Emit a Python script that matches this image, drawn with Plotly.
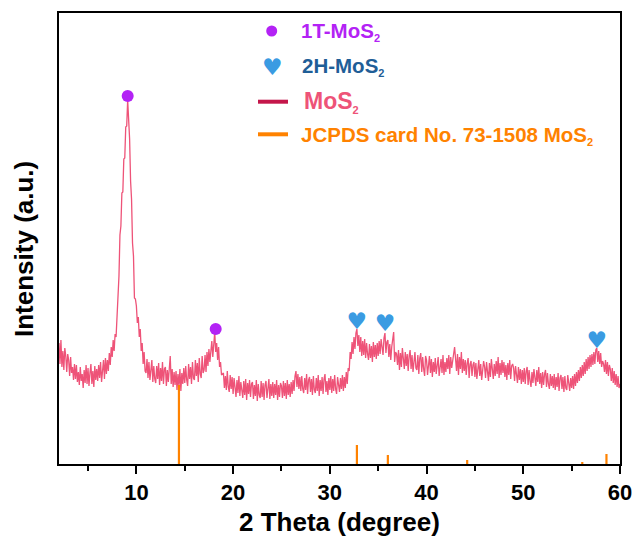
import numpy as np
import plotly.graph_objects as go

# ---------------- data ----------------
# XRD scan: 2-theta from 2.0 to 60.0 deg, step 0.1 deg
scan_start = 2.0
scan_step = 0.1
intensity = [
    121, 100, 124, 97, 113, 94, 116, 108, 92, 110,       # 2
    104, 88, 107, 91, 97, 84, 100, 85, 99, 82,           # 3
    92, 79, 97, 83, 90, 76, 94, 81, 99, 80,              # 4
    96, 78, 91, 100, 80, 93, 77, 98, 84, 95,             # 5
    83, 99, 86, 102, 82, 97, 104, 85, 106, 90,           # 6
    104, 93, 111, 99, 117, 107, 124, 113, 130, 127,      # 7
    146, 172, 188, 229, 238, 271, 272, 305, 306, 337,    # 8
    338, 364, 345, 325, 283, 265, 221, 208, 166, 165,    # 9
    158, 141, 147, 127, 135, 113, 121, 100, 112, 93,     # 10
    91, 105, 86, 102, 84, 99, 104, 82, 98, 85,           # 11
    81, 98, 85, 101, 79, 96, 83, 102, 80, 95,            # 12
    97, 78, 94, 82, 99, 108, 80, 95, 77, 92,             # 13
    79, 93, 74, 90, 77, 95, 73, 91, 80, 96,              # 14
    81, 98, 84, 78, 100, 85, 97, 80, 102, 86,            # 15
    84, 104, 88, 101, 82, 106, 90, 86, 108, 91,          # 16
    94, 109, 92, 112, 98, 115, 102, 118, 123, 107,       # 17
    125, 132, 112, 121, 104, 117, 97, 102, 89, 90,       # 18
    91, 76, 88, 74, 93, 77, 72, 89, 75, 87,              # 19
    70, 86, 73, 67, 84, 71, 88, 68, 82, 72,              # 20
    66, 83, 69, 85, 64, 81, 70, 84, 67, 80,              # 21
    82, 65, 79, 68, 84, 63, 80, 69, 66, 83,              # 22
    67, 81, 64, 79, 83, 66, 78, 85, 65, 80,              # 23
    68, 82, 66, 80, 69, 84, 64, 79, 67, 81,              # 24
    78, 66, 83, 68, 81, 65, 84, 69, 80, 67,              # 25
    82, 70, 84, 73, 88, 93, 77, 90, 75, 87,              # 26
    73, 88, 75, 71, 86, 74, 90, 70, 84, 87,              # 27
    72, 85, 69, 88, 74, 71, 86, 73, 89, 68,              # 28
    84, 73, 87, 70, 85, 90, 72, 83, 69, 86,              # 29
    74, 88, 71, 85, 73, 89, 75, 70, 87, 76,              # 30
    72, 86, 75, 89, 73, 87, 76, 92, 80, 96,              # 31
    93, 112, 105, 122, 110, 127, 115, 131, 135, 118,     # 32
    129, 112, 127, 108, 123, 109, 125, 106, 121, 110,    # 33
    104, 120, 106, 118, 102, 122, 107, 119, 105, 121,    # 34
    108, 123, 110, 125, 112, 109, 126, 131, 111, 122,    # 35
    124, 107, 120, 104, 117, 123, 132, 102, 112, 110,    # 36
    99, 114, 94, 111, 97, 116, 100, 95, 112, 98,         # 37
    110, 93, 108, 114, 95, 109, 92, 107, 112, 96,        # 38
    94, 109, 90, 106, 111, 92, 107, 95, 88, 108,         # 39
    104, 89, 101, 108, 91, 105, 87, 102, 92, 106,        # 40
    90, 103, 107, 88, 101, 105, 91, 109, 89, 102,        # 41
    92, 106, 95, 109, 90, 107, 96, 102, 111, 117,        # 42
    105, 93, 110, 89, 107, 95, 112, 91, 105, 93,         # 43
    104, 89, 101, 106, 86, 100, 103, 88, 99, 102,        # 44
    87, 101, 85, 99, 104, 88, 100, 84, 98, 103,          # 45
    97, 86, 102, 90, 83, 101, 87, 105, 91, 85,           # 46
    100, 88, 103, 90, 107, 86, 101, 89, 104, 91,         # 47
    102, 87, 99, 84, 101, 89, 104, 85, 98, 100,          # 48
    96, 83, 98, 85, 81, 97, 84, 95, 80, 94,              # 49
    82, 96, 80, 93, 97, 79, 94, 83, 77, 92,              # 50
    81, 95, 84, 78, 94, 82, 97, 80, 91, 76,              # 51
    92, 79, 90, 94, 77, 91, 80, 75, 90, 78,              # 52
    88, 76, 90, 74, 87, 77, 91, 73, 86, 89,              # 53
    75, 87, 72, 88, 76, 74, 89, 77, 73, 86,              # 54
    76, 88, 75, 90, 78, 92, 81, 94, 83, 97,              # 55
    86, 99, 88, 102, 90, 105, 93, 107, 95, 109,          # 56
    97, 110, 99, 112, 100, 114, 116, 102, 113, 100,      # 57
    111, 97, 103, 100, 92, 104, 90, 102, 88, 99,         # 58
    95, 83, 96, 81, 93, 79, 90, 77, 88, 76,              # 59
    80,                                                  # 60
]
two_theta = np.round(scan_start + scan_step * np.arange(len(intensity)), 1)

# JCPDS card No. 73-1508 reference lines
jcpds_pos = [14.4, 32.8, 36.0, 44.2, 56.1, 58.6]
jcpds_int = [79, 19, 9, 4, 2, 10]

# Phase markers
peaks_1T_x = [9.1, 18.2]
peaks_1T_y = [368, 135]
peaks_2H_x = [32.8, 35.7, 57.6]
peaks_2H_y = [141, 139, 122]

x_range = [2, 60]
y_range = [0, 451]

# ---------------- styling ----------------
FONT = "Liberation Sans, Arial, sans-serif"
C_LINE = "#EE5378"
C_LINE_LEG = "#C4164A"
C_1T = "#B322F5"
C_2H_TXT = "#1F5E97"
C_2H_ICON = "#3A9BE2"
C_JCPDS = "#FF8200"

fig = go.Figure()

fig.add_trace(go.Scatter(
    x=two_theta, y=intensity, mode="lines",
    line=dict(color=C_LINE, width=1.3), showlegend=False, hoverinfo="skip"))

# stick pattern
sx, sy = [], []
for p, h in zip(jcpds_pos, jcpds_int):
    sx += [p, p, None]
    sy += [0, h, None]
fig.add_trace(go.Scatter(
    x=sx, y=sy, mode="lines", line=dict(color=C_JCPDS, width=2.2),
    showlegend=False, hoverinfo="skip"))

fig.add_trace(go.Scatter(
    x=peaks_1T_x, y=peaks_1T_y, mode="markers",
    marker=dict(color=C_1T, size=12, line=dict(width=0)),
    showlegend=False, hoverinfo="skip"))

fig.add_trace(go.Scatter(
    x=peaks_2H_x, y=peaks_2H_y, mode="text", text=["♥"] * len(peaks_2H_x),
    textposition="middle center",
    textfont=dict(family="DejaVu Sans", size=23, color=C_2H_ICON),
    showlegend=False, hoverinfo="skip"))

# ---------------- custom legend ----------------
L, R, T, B = 59, 620, 13, 464
W, H = R - L, B - T


def px(x):
    return (x - L) / W


def py(y):
    return (B - y) / H


sub = "<sub><span style='font-size:11px'>2</span></sub>"
legend_rows = [
    ("1T-MoS" + sub, C_1T, 299, 31, 20.5),
    ("2H-MoS" + sub, C_2H_TXT, 300, 66, 20.5),
    ("MoS" + sub, C_LINE, 302, 102, 23),
    ("JCPDS card No. 73-1508 MoS" + sub, C_JCPDS, 299, 135, 20.5),
]
for txt, col, x0, y0, fs in legend_rows:
    fig.add_annotation(
        xref="paper", yref="paper", x=px(x0), y=py(y0), text="<b>" + txt + "</b>",
        showarrow=False, xanchor="left", yanchor="middle",
        font=dict(family=FONT, size=fs, color=col))

# circle symbol
r = 5.5
fig.add_shape(type="circle", xref="paper", yref="paper",
              x0=px(271.7 - r), x1=px(271.7 + r), y0=py(31 + r), y1=py(31 - r),
              fillcolor=C_1T, line=dict(width=0))
# heart symbol
fig.add_annotation(xref="paper", yref="paper", x=px(272.5), y=py(66.5), text="♥",
                   showarrow=False, xanchor="center", yanchor="middle",
                   font=dict(family="DejaVu Sans", size=23, color=C_2H_ICON))
# line symbols
fig.add_shape(type="line", xref="paper", yref="paper",
              x0=px(258), x1=px(288), y0=py(101.7), y1=py(101.7),
              line=dict(color=C_LINE_LEG, width=4))
fig.add_shape(type="line", xref="paper", yref="paper",
              x0=px(258), x1=px(288), y0=py(134.3), y1=py(134.3),
              line=dict(color=C_JCPDS, width=4))

# axis titles
fig.add_annotation(xref="paper", yref="paper", x=px(339.5), y=py(522),
                   text="<b>2 Theta (degree)</b>", showarrow=False,
                   xanchor="center", yanchor="middle",
                   font=dict(family=FONT, size=26, color="black"))
fig.add_annotation(xref="paper", yref="paper", x=px(24), y=py(249),
                   text="<b>Intensity (a.u.)</b>", showarrow=False, textangle=-90,
                   xanchor="center", yanchor="middle",
                   font=dict(family=FONT, size=26, color="black"))

# ---------------- axes/layout ----------------
fig.update_layout(
    width=633, height=539,
    margin=dict(l=L, r=633 - R, t=T, b=539 - B),
    paper_bgcolor="white", plot_bgcolor="white",
    font=dict(family=FONT, color="black"),
    showlegend=False,
)
fig.update_xaxes(
    range=x_range, showgrid=False, zeroline=False, automargin=False,
    showline=True, linecolor="black", linewidth=2, mirror=True,
    ticks="outside", ticklen=8, tickwidth=2, tickcolor="black",
    tick0=0, dtick=10,
    minor=dict(ticks="outside", ticklen=5, tickwidth=2, tickcolor="black", dtick=5, tick0=0),
    tickfont=dict(family=FONT, size=22, color="black", weight="bold"),
)
fig.update_yaxes(
    range=y_range, showgrid=False, zeroline=False, automargin=False,
    showline=True, linecolor="black", linewidth=2, mirror=True,
    showticklabels=False, ticks="",
)

fig.write_html("out.html")
